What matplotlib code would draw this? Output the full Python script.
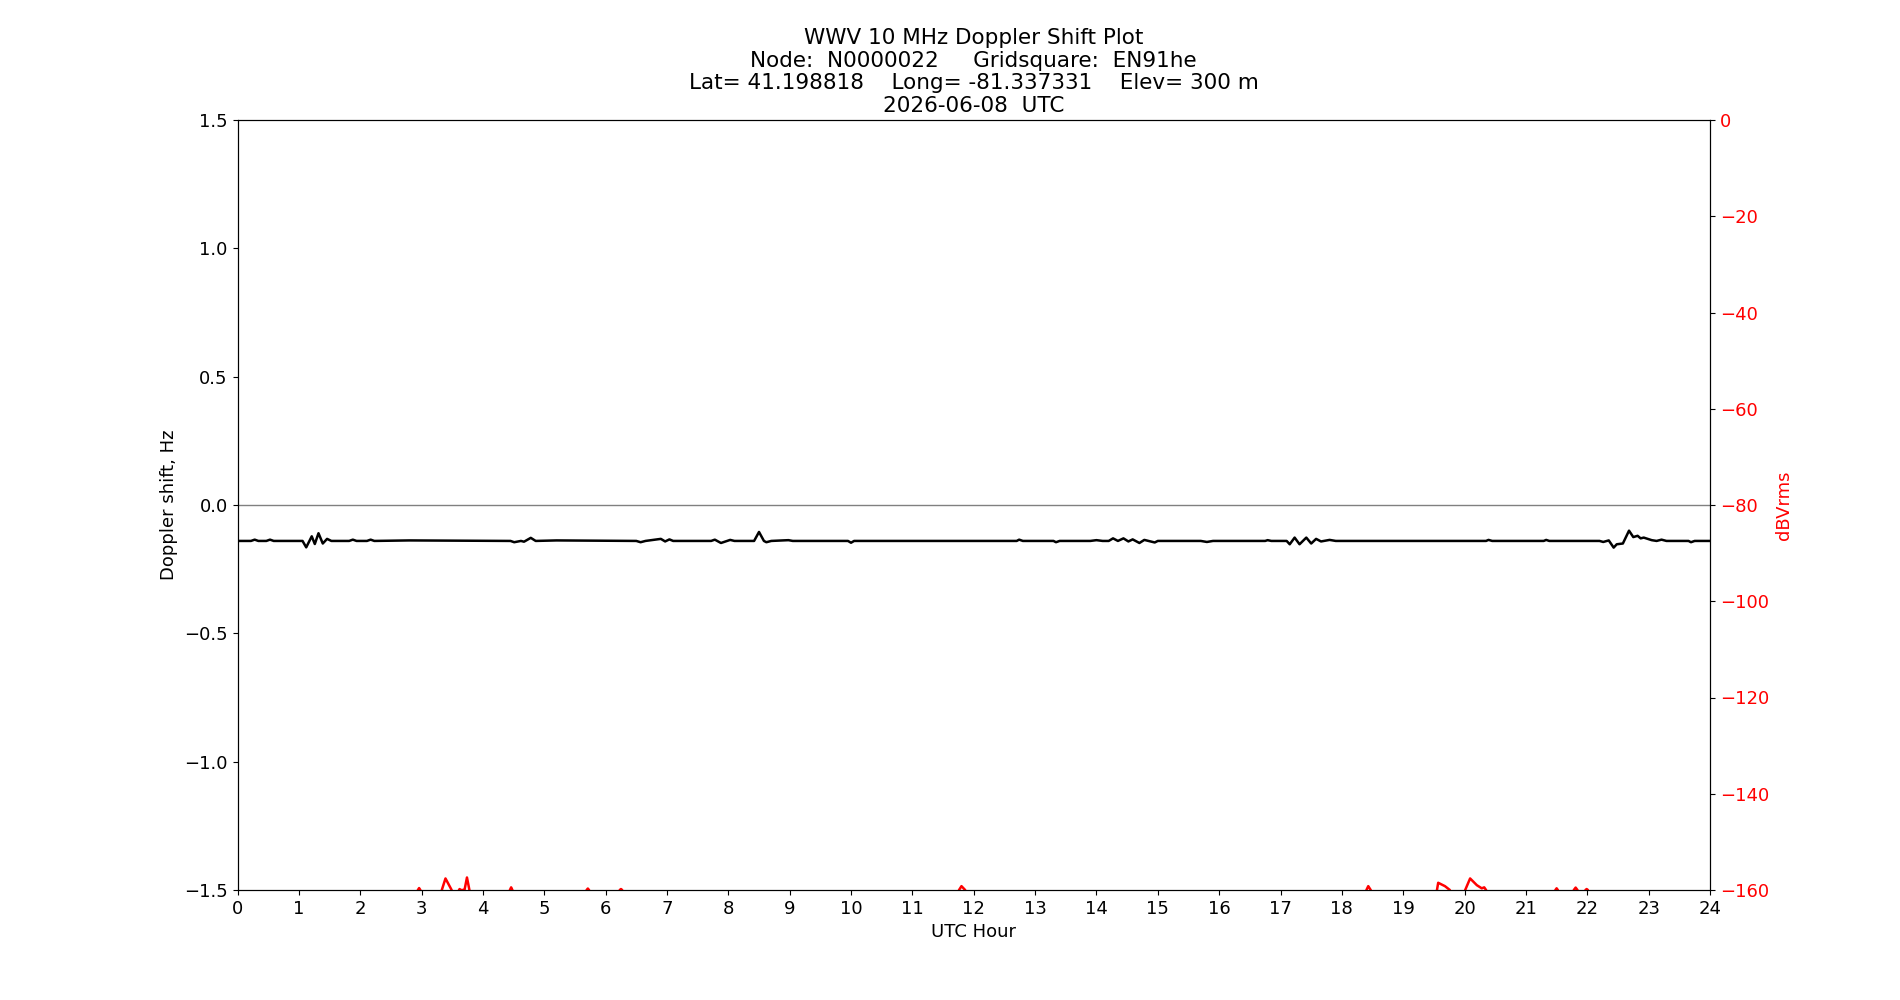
import matplotlib
matplotlib.use("Agg")
import matplotlib.pyplot as plt

# doppler trace (hour, Hz)
doppler_hours = [0.0, 0.22, 0.28, 0.34, 0.47, 0.53, 0.59, 1.06, 1.12, 1.21, 1.26, 1.32, 1.39, 1.46, 1.53,
                 1.82, 1.88, 1.94, 2.11, 2.17, 2.23, 2.8, 4.45, 4.51, 4.62, 4.67, 4.78, 4.86, 5.2,
                 6.5, 6.57, 6.65, 6.9, 6.97, 7.04, 7.1, 7.72, 7.78, 7.88, 8.03, 8.1, 8.42, 8.5, 8.58,
                 8.62, 8.7, 8.98, 9.05, 9.95, 10.0, 10.05, 12.7, 12.74, 12.8, 13.3, 13.34, 13.4,
                 13.9, 14.0, 14.1, 14.2, 14.27, 14.35, 14.44, 14.52, 14.59, 14.7, 14.78, 14.95, 15.0,
                 15.7, 15.8, 15.9, 16.75, 16.79, 16.85, 17.1, 17.15, 17.23, 17.31, 17.42, 17.5, 17.58,
                 17.66, 17.8, 17.9, 20.35, 20.39, 20.45, 21.29, 21.33, 21.38, 22.2, 22.26, 22.35,
                 22.43, 22.48, 22.58, 22.68, 22.75, 22.82, 22.87, 22.92, 23.05, 23.13, 23.21, 23.29,
                 23.65, 23.69, 23.75, 24.0]
doppler_hz = [-0.14, -0.14, -0.135, -0.14, -0.14, -0.135, -0.14, -0.14, -0.165, -0.122, -0.152, -0.11, -0.15, -0.132, -0.14,
              -0.14, -0.135, -0.14, -0.14, -0.135, -0.14, -0.138, -0.14, -0.145, -0.14, -0.143, -0.128, -0.14, -0.138,
              -0.14, -0.145, -0.14, -0.132, -0.142, -0.134, -0.14, -0.14, -0.135, -0.148, -0.136, -0.14, -0.14, -0.105, -0.14,
              -0.145, -0.14, -0.137, -0.14, -0.14, -0.147, -0.14, -0.14, -0.135, -0.14, -0.14, -0.145, -0.14,
              -0.14, -0.137, -0.14, -0.14, -0.13, -0.14, -0.13, -0.142, -0.134, -0.148, -0.136, -0.146, -0.14,
              -0.14, -0.144, -0.14, -0.14, -0.137, -0.14, -0.14, -0.153, -0.127, -0.153, -0.127, -0.15, -0.132,
              -0.142, -0.136, -0.14, -0.14, -0.136, -0.14, -0.14, -0.136, -0.14, -0.14, -0.144, -0.138,
              -0.166, -0.153, -0.15, -0.1, -0.125, -0.12, -0.13, -0.127, -0.137, -0.14, -0.135, -0.14,
              -0.14, -0.145, -0.14, -0.14]

# received power (dBVrms), mostly below the -160 floor
power_hours = [0.0, 2.9, 2.94, 2.96, 2.98, 3.02,
               3.3, 3.33, 3.39, 3.49, 3.52,
               3.59, 3.61, 3.62, 3.64, 3.68, 3.70, 3.74, 3.78, 3.81,
               4.42, 4.44, 4.46, 4.48, 4.5,
               5.67, 5.69, 5.71, 5.73, 5.75,
               6.21, 6.23, 6.25, 6.27, 6.29,
               11.73, 11.76, 11.8, 11.86, 11.89,
               18.38, 18.4, 18.43, 18.47, 18.5,
               19.52, 19.55, 19.57, 19.68, 19.76, 19.79,
               19.98, 20.01, 20.09, 20.2, 20.28, 20.32, 20.35, 20.38,
               21.46, 21.48, 21.5, 21.52, 21.54,
               21.76, 21.78, 21.81, 21.84, 21.86,
               21.95, 21.97, 21.99, 22.01, 22.03, 24.0]
power_db = [-165, -165, -160, -159.6, -160, -165,
            -163, -160, -157.6, -160, -163,
            -163, -160, -159.8, -160, -160, -160, -157.4, -160, -163,
            -163, -160, -159.45, -160, -163,
            -163, -160, -159.7, -160, -163,
            -163, -160, -159.8, -160, -163,
            -163, -160, -159.2, -160, -163,
            -163, -160, -159.2, -160, -163,
            -163, -160, -158.5, -159.2, -160, -163,
            -163, -160, -157.6, -159.0, -159.65, -159.45, -160, -163,
            -163, -160, -159.65, -160, -163,
            -163, -160, -159.5, -160, -163,
            -163, -160, -159.8, -160, -163, -165]

title = ("WWV 10 MHz Doppler Shift Plot\n"
         "Node:  N0000022     Gridsquare:  EN91he\n"
         "Lat= 41.198818    Long= -81.337331    Elev= 300 m\n"
         "2026-06-08  UTC")

fig, ax = plt.subplots(figsize=(19, 10), dpi=100)

ax.plot(doppler_hours, doppler_hz, color='black', linewidth=1.8)
ax.axhline(0, color='grey', linewidth=1)
ax.set_xlim(0, 24)
ax.set_ylim(-1.5, 1.5)
ax.set_xticks(range(0, 25))
ax.set_yticks([-1.5, -1.0, -0.5, 0.0, 0.5, 1.0, 1.5])
ax.tick_params(labelsize=13)
ax.set_xlabel('UTC Hour', fontsize=13)
ax.set_ylabel('Doppler shift, Hz', fontsize=13)
ax.set_title(title, fontsize=15.5, linespacing=1.15)

ax2 = ax.twinx()
ax2.plot(power_hours, power_db, color='red', linewidth=1.8)
ax2.set_ylim(-160, 0)
ax2.set_yticks(range(-160, 1, 20))
ax2.tick_params(axis='y', labelcolor='red', labelsize=13)
ax2.set_ylabel('dBVrms', color='red', fontsize=13)

fig.savefig('out.png')
